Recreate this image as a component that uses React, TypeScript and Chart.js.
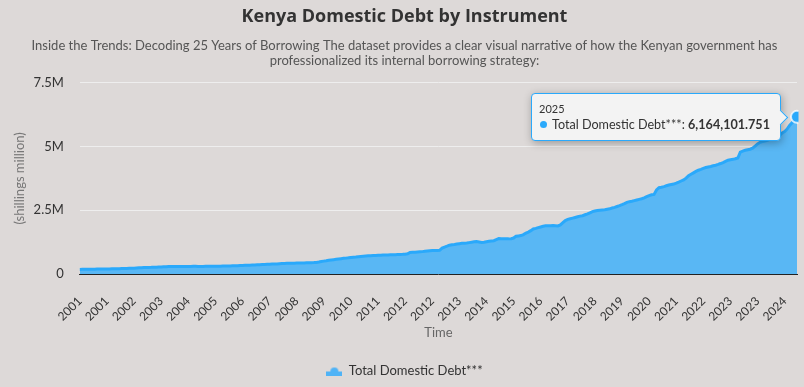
import React, { useEffect, useRef } from "react";
import { Chart, registerables } from "chart.js";

Chart.register(...registerables);

const TITLE = "Kenya Domestic Debt by Instrument";
const SUBTITLE = [
  "Inside the Trends: Decoding 25 Years of Borrowing The dataset provides a clear visual narrative of how the Kenyan government has",
  "professionalized its internal borrowing strategy:",
];
const SERIES_NAME = "Total Domestic Debt***";
const X_TITLE = "Time";
const Y_TITLE = "(shillings million)";

const years = [
  2001, 2002, 2003, 2004, 2005, 2006, 2007, 2008, 2009, 2010, 2011, 2012, 2013,
  2014, 2015, 2016, 2017, 2018, 2019, 2020, 2021, 2022, 2023, 2024, 2025,
];

// Monthly values (shillings million), one row per year
const debt2001 = [181200, 183500, 182900, 186100, 188400, 187900, 190700, 193200, 192800, 195600, 197900, 199400];
const debt2002 = [201300, 203800, 206100, 205400, 209700, 212600, 215300, 218900, 222400, 226800, 231500, 238700];
const debt2003 = [245200, 248900, 251600, 254300, 259800, 262100, 266700, 270400, 274900, 279300, 283800, 288600];
const debt2004 = [291400, 293100, 292600, 294800, 296200, 295300, 297700, 298400, 296900, 299100, 300600, 301200];
const debt2005 = [298700, 297400, 299800, 301900, 303500, 302800, 305600, 307100, 306400, 309300, 311800, 313600];
const debt2006 = [315900, 318700, 322400, 325800, 329100, 333600, 337200, 340900, 344800, 348300, 352700, 357400];
const debt2007 = [361200, 365900, 369300, 374800, 379600, 384100, 388700, 393900, 398200, 403600, 409100, 415800];
const debt2008 = [419400, 421800, 424100, 426700, 428300, 431900, 433600, 436800, 439200, 442700, 445900, 449300];
const debt2009 = [456800, 471200, 489600, 506300, 521900, 539800, 551200, 563700, 575400, 588100, 601600, 614800];
const debt2010 = [623900, 634500, 648200, 659700, 667300, 678900, 689400, 697800, 706200, 713500, 719800, 726400];
const debt2011 = [729700, 733800, 738100, 741600, 745900, 749200, 752700, 756800, 759400, 763100, 767500, 771800];
const debt2012 = [778400, 792600, 846300, 851800, 857400, 863900, 871200, 878600, 889500, 901300, 912800, 920600];
const debt2013 = [921400, 918700, 926300, 1015600, 1058400, 1093700, 1132800, 1149600, 1162300, 1178900, 1190400, 1203600];
const debt2014 = [1208700, 1215400, 1231800, 1249600, 1262300, 1271900, 1258700, 1236400, 1249800, 1268300, 1284700, 1296200];
const debt2015 = [1305800, 1347300, 1389600, 1384200, 1381700, 1379400, 1378900, 1386500, 1412600, 1479800, 1495300, 1508700];
const debt2016 = [1548600, 1603900, 1642700, 1701800, 1768400, 1791600, 1818300, 1846500, 1874200, 1889600, 1893800, 1897100];
const debt2017 = [1899500, 1893200, 1886700, 1928400, 2012300, 2098600, 2141800, 2168900, 2193400, 2219700, 2246300, 2271800];
const debt2018 = [2288300, 2324600, 2359800, 2403100, 2448700, 2472900, 2489300, 2503600, 2514800, 2521900, 2538400, 2556700];
const debt2019 = [2589300, 2613800, 2649700, 2684200, 2721600, 2763900, 2812400, 2838700, 2856300, 2879400, 2903100, 2928500];
const debt2020 = [2952600, 2987400, 3034900, 3078200, 3109600, 3124800, 3298300, 3386700, 3402500, 3429800, 3461200, 3489600];
const debt2021 = [3509300, 3527900, 3563400, 3602700, 3648900, 3691300, 3762600, 3858400, 3912700, 3968100, 4024300, 4071900];
const debt2022 = [4102800, 4143600, 4176200, 4198300, 4219700, 4247800, 4268900, 4298400, 4334100, 4372600, 4418900, 4462300];
const debt2023 = [4479600, 4498300, 4521700, 4548600, 4782900, 4823600, 4851900, 4876300, 4893700, 4934800, 5018600, 5102700];
const debt2024 = [5164300, 5191700, 5215400, 5243900, 5278600, 5296800, 5342100, 5398700, 5446200, 5532800, 5589400, 5683700];
const debt2025 = [5824900, 5936200, 6047800, 6164101.751];

const debtRows = [
  debt2001, debt2002, debt2003, debt2004, debt2005, debt2006, debt2007, debt2008,
  debt2009, debt2010, debt2011, debt2012, debt2013, debt2014, debt2015, debt2016,
  debt2017, debt2018, debt2019, debt2020, debt2021, debt2022, debt2023, debt2024, debt2025,
];

const yTickValues = [0, 2500000, 5000000, 7500000];
const X_LABEL_EVERY = 11;

const FONT = "Lato, 'Open Sans', sans-serif";
const TITLE_FONT = "'Open Sans', Lato, sans-serif";
const BG = "#ddd9d8";
const LINE = "#2aa9fb";
const FILL = "#59b7f4";
const CLEAR = "rgba(0,0,0,0)";

function makeLegendIcon(): HTMLCanvasElement {
  const c = document.createElement("canvas");
  c.width = 16;
  c.height = 10;
  const g = c.getContext("2d")!;
  g.fillStyle = "#4fb3f6";
  g.beginPath();
  g.arc(8, 6, 4, Math.PI, 0);
  g.fill();
  g.fillRect(0, 6, 16, 4);
  return c;
}

export default function App() {
  const canvasRef = useRef<HTMLCanvasElement | null>(null);
  const tipRef = useRef<HTMLDivElement | null>(null);

  useEffect(() => {
    document.body.style.margin = "0";
    document.body.style.background = BG;
    const labels: string[] = [];
    const values: number[] = [];
    years.forEach((y, k) => {
      debtRows[k].forEach((v) => {
        labels.push(String(y));
        values.push(v);
      });
    });

    const icon = makeLegendIcon();

    const external = (ctx: any) => {
      const tipEl = tipRef.current;
      if (!tipEl) return;
      const { tooltip } = ctx;
      if (!tooltip || tooltip.opacity === 0 || !tooltip.dataPoints || !tooltip.dataPoints.length) {
        tipEl.style.opacity = "0";
        return;
      }
      const dp = tooltip.dataPoints[0];
      const titleEl = tipEl.querySelector(".tt-title") as HTMLElement;
      const nameEl = tipEl.querySelector(".tt-name") as HTMLElement;
      const valEl = tipEl.querySelector(".tt-val") as HTMLElement;
      titleEl.textContent = dp.label;
      nameEl.textContent = dp.dataset.label + ": ";
      valEl.textContent = Number(dp.raw).toLocaleString("en-US", { maximumFractionDigits: 3 });
      tipEl.style.opacity = "1";
      const w = tipEl.offsetWidth;
      const h = tipEl.offsetHeight;
      tipEl.style.left = tooltip.caretX - 16 - w + "px";
      tipEl.style.top = tooltip.caretY - h / 2 + "px";
    };

    const chart = new Chart(canvasRef.current!, {
      type: "line",
      data: {
        labels,
        datasets: [
          {
            label: SERIES_NAME,
            data: values,
            borderColor: LINE,
            backgroundColor: FILL,
            borderWidth: 3,
            fill: "origin",
            tension: 0,
            pointRadius: 0,
            pointHoverRadius: 6,
            pointHoverBackgroundColor: LINE,
            pointHoverBorderColor: "rgba(255,255,255,0.75)",
            pointHoverBorderWidth: 2,
          },
        ],
      },
      options: {
        responsive: false,
        animation: false,
        layout: { padding: { left: 12, right: 7, top: 4, bottom: 0 } },
        interaction: { mode: "index", intersect: false },
        scales: {
          x: {
            grid: { display: true, drawOnChartArea: false, drawTicks: true, tickLength: 16, tickColor: CLEAR, color: CLEAR },
            border: { display: true, color: "#222", width: 1 },
            ticks: {
              autoSkip: false,
              minRotation: 45,
              maxRotation: 45,
              padding: 4,
              color: "#333",
              font: { family: FONT, size: 12 },
              callback: function (this: any, val: any, idx: number) {
                return idx % X_LABEL_EVERY === 0 ? this.getLabelForValue(val) : null;
              },
            },
            title: {
              display: true,
              text: X_TITLE,
              color: "#666",
              font: { family: FONT, size: 13 },
              padding: { top: -3, bottom: 13.5 },
            },
          },
          y: {
            min: 0,
            max: 7500000,
            afterBuildTicks: (axis: any) => {
              axis.ticks = yTickValues.map((v) => ({ value: v }));
            },
            grid: { color: "#eeeeee", drawTicks: true, tickLength: 12, tickColor: CLEAR },
            border: { display: false },
            ticks: {
              padding: 4,
              color: "#333",
              font: { family: FONT, size: 13 },
              callback: (v: any) => (Number(v) === 0 ? "0" : Number(v) / 1000000 + "M"),
            },
            title: {
              display: true,
              text: Y_TITLE,
              color: "#777",
              font: { family: FONT, size: 13 },
              padding: { top: 0, bottom: 2 },
            },
          },
        },
        plugins: {
          title: {
            display: true,
            text: TITLE,
            color: "#333",
            font: { family: TITLE_FONT, size: 18, weight: "bold" },
            padding: { top: 2, bottom: 10 },
          },
          subtitle: {
            display: true,
            text: SUBTITLE,
            color: "#555",
            font: { family: FONT, size: 13, lineHeight: 1.2 },
            padding: { top: 0, bottom: 14 },
          },
          legend: {
            position: "bottom",
            labels: {
              usePointStyle: true,
              pointStyleWidth: 16,
              color: "#333",
              font: { family: FONT, size: 13 },
              padding: 10,
              generateLabels: (c: any) => {
                const items = Chart.defaults.plugins.legend.labels.generateLabels(c);
                items.forEach((it: any) => {
                  it.pointStyle = icon;
                });
                return items;
              },
            },
          },
          tooltip: {
            enabled: false,
            external,
          },
        },
      },
    });

    const last = values.length - 1;
    const meta = chart.getDatasetMeta(0);
    const pt = meta.data[last] as any;
    chart.setActiveElements([{ datasetIndex: 0, index: last }]);
    chart.tooltip!.setActiveElements([{ datasetIndex: 0, index: last }], { x: pt.x, y: pt.y });
    chart.update();

    return () => {
      chart.destroy();
    };
  }, []);

  return (
    <div style={{ position: "relative", width: 804, height: 387, background: BG }}>
      <canvas ref={canvasRef} width={804} height={387} />
      <div
        ref={tipRef}
        style={{
          position: "absolute",
          opacity: 0,
          pointerEvents: "none",
          background: "#f3f3f3",
          border: "1px solid " + LINE,
          borderRadius: 4,
          boxShadow: "1px 2px 8px rgba(0,0,0,0.3)",
          padding: "8px 10px 7px 7px",
          fontFamily: FONT,
          color: "#333",
          whiteSpace: "nowrap",
        }}
      >
        <div className="tt-title" style={{ fontSize: 11, lineHeight: "13px", marginBottom: 2 }} />
        <div style={{ fontSize: 12.6, lineHeight: "16px", display: "flex", alignItems: "center" }}>
          <span
            style={{
              display: "inline-block",
              width: 7,
              height: 7,
              borderRadius: "50%",
              background: LINE,
              marginLeft: 1,
              marginRight: 5,
            }}
          />
          <span className="tt-name" style={{ whiteSpace: "pre" }} />
          <span className="tt-val" style={{ fontWeight: "bold" }} />
        </div>
        <div
          style={{
            position: "absolute",
            right: -6,
            top: "50%",
            marginTop: -5,
            width: 10,
            height: 10,
            background: "#f3f3f3",
            borderTop: "1px solid " + LINE,
            borderRight: "1px solid " + LINE,
            transform: "rotate(45deg)",
          }}
        />
      </div>
    </div>
  );
}
